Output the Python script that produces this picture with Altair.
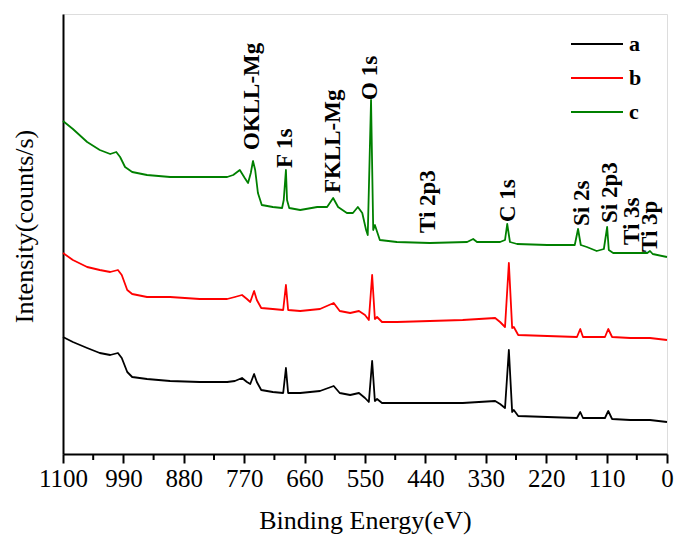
import altair as alt
import pandas as pd

# ---- spectra (Binding energy in eV, intensity in arbitrary offset units) ----
energy_a = [1100, 1082, 1056, 1033, 1014, 1000, 993, 983, 974, 947, 905, 851, 801, 787, 774, 765, 759,
            752, 747, 739, 718, 699, 694, 690, 668, 632, 607, 596, 577, 561, 550, 543, 537, 532, 528,
            519, 492, 432, 372, 313, 304, 295, 288, 282, 279, 271, 218, 164, 158, 153, 113, 107, 100,
            67, 31, 0]
int_a = [117, 112, 106, 101, 99, 101, 96, 82, 77, 75, 73, 72, 72, 73, 76, 72, 70,
         80, 72, 64, 62, 61, 86, 61, 61, 63, 68, 61, 59, 61, 56, 52, 93, 53, 55,
         51, 51, 51, 51, 53, 50, 46, 104, 42, 44, 38, 37, 36, 42, 36, 36, 43, 35,
         34, 34, 32]

energy_b = [1100, 1082, 1056, 1033, 1014, 1000, 993, 983, 974, 947, 905, 851, 801, 787, 774, 765, 759,
            752, 747, 739, 718, 699, 694, 690, 668, 632, 607, 596, 577, 561, 550, 543, 537, 532, 528,
            519, 492, 432, 372, 313, 304, 295, 288, 282, 279, 271, 218, 164, 158, 153, 113, 107, 100,
            67, 31, 0]
int_b = [201, 194, 187, 184, 182, 184, 179, 164, 160, 157, 157, 155, 155, 157, 159, 155, 152,
         163, 154, 146, 145, 144, 169, 144, 143, 145, 151, 143, 141, 143, 139, 134, 179, 135, 137,
         132, 132, 133, 134, 136, 132, 127, 191, 126, 127, 119, 118, 117, 125, 117, 117, 125, 117,
         116, 116, 114]

energy_c = [1100, 1082, 1056, 1033, 1014, 1003, 996, 987, 974, 947, 905, 851, 801, 790, 778, 769, 763,
            758, 754, 750, 745, 738, 718, 701, 698, 694, 692, 688, 668, 637, 619, 608, 599, 583, 572,
            563, 555, 548, 545, 539, 535, 532, 526, 523, 492, 432, 364, 353, 346, 304, 295, 291, 286,
            273, 218, 189, 168, 162, 157, 146, 128, 115, 109, 106, 98, 67, 36, 31, 26, 0]
int_c = [333, 325, 312, 304, 300, 302, 297, 287, 282, 279, 277, 277, 277, 279, 284, 276, 271,
         281, 293, 284, 261, 249, 247, 246, 254, 284, 254, 246, 244, 247, 247, 256, 247, 241, 241,
         247, 241, 224, 219, 354, 224, 229, 219, 214, 212, 211, 212, 215, 212, 212, 214, 230, 212,
         210, 209, 209, 209, 225, 209, 207, 203, 205, 227, 204, 201, 201, 201, 203, 200, 197]

series_names = ["a", "b", "c"]
series_colors = ["#000000", "#ff0000", "#008000"]

# ---- peak annotations ----
peak_labels = ["OKLL-Mg", "F 1s", "FKLL-Mg", "O 1s", "Ti 2p3", "C 1s", "Si 2s", "Si 2p3", "Ti 3s", "Ti 3p"]
peak_energy = [756, 696, 608, 541, 435, 290, 155, 104, 64, 31]
peak_y = [304, 286, 261, 354, 221, 232, 228, 231, 209, 202]

# ---- axis ticks ----
x_ticks = [1100, 990, 880, 770, 660, 550, 440, 330, 220, 110, 0]
minor_ticks = [1045, 935, 825, 715, 605, 495, 385, 275, 165, 55]

frames = []
for name, e, i in [("a", energy_a, int_a), ("b", energy_b, int_b), ("c", energy_c, int_c)]:
    frames.append(pd.DataFrame({"energy": e, "intensity": i, "sample": name}))
spectra = pd.concat(frames, ignore_index=True)

labels_df = pd.DataFrame({"energy": peak_energy, "intensity": peak_y, "label": peak_labels})
minor_df = pd.DataFrame({"energy": minor_ticks})

SERIF = "Liberation Serif"

x_scale = alt.Scale(domain=[1100, 0], nice=False, zero=False)
y_scale = alt.Scale(domain=[0, 440], nice=False, zero=True)

x_axis = alt.Axis(values=x_ticks, title="Binding Energy(eV)", format="d",
                  tickSize=9, tickWidth=2, tickColor="black",
                  domainColor="black", domainWidth=2, grid=False,
                  labelFont=SERIF, labelFontSize=25, labelColor="black",
                  labelPadding=3, labelFlush=False, labelOverlap=False,
                  titleFont=SERIF, titleFontSize=26, titleFontWeight="normal",
                  titleColor="black", titleBaseline="top", titleY=53)
y_axis = alt.Axis(title="Intensity(counts/s)", ticks=False, labels=False,
                  domainColor="black", domainWidth=2, grid=False,
                  titleFont=SERIF, titleFontSize=26, titleFontWeight="normal",
                  titleColor="black", titleAngle=270, titleAlign="center",
                  titleBaseline="bottom", titleX=-26, titleY=212)

x_enc = alt.X("energy:Q", scale=x_scale, axis=x_axis)
y_enc = alt.Y("intensity:Q", scale=y_scale, axis=y_axis)

lines = alt.Chart(spectra).mark_line(strokeWidth=1.8, strokeJoin="round").encode(
    x=x_enc,
    y=y_enc,
    color=alt.Color("sample:N",
                    scale=alt.Scale(domain=series_names, range=series_colors),
                    legend=alt.Legend(orient="none", legendX=507, legendY=13, title=None,
                                      symbolType="stroke", symbolSize=2704,
                                      symbolStrokeWidth=2, padding=0,
                                      labelFont=SERIF, labelFontSize=22,
                                      labelFontWeight="bold", labelColor="black",
                                      labelOffset=5, rowPadding=0, clipHeight=34)),
    order=alt.Order("energy:Q"),
)

texts = alt.Chart(labels_df).mark_text(
    angle=270, align="left", baseline="middle",
    font=SERIF, fontSize=23, fontWeight="bold", color="black"
).encode(x=x_enc, y=y_enc, text="label:N")

minor = alt.Chart(minor_df).mark_rule(color="black", strokeWidth=2).encode(
    x=x_enc, y=alt.value(440), y2=alt.value(446)
)

chart = alt.layer(lines, texts, minor).properties(
    width=604, height=440,
    autosize=alt.AutoSizeParams(type="none"),
    padding={"left": 63, "top": 14, "right": 8, "bottom": 81},
).configure_view(stroke="black", strokeWidth=2).configure(background="white")

chart.save("out.html", embed_options={"renderer": "svg", "actions": False})
